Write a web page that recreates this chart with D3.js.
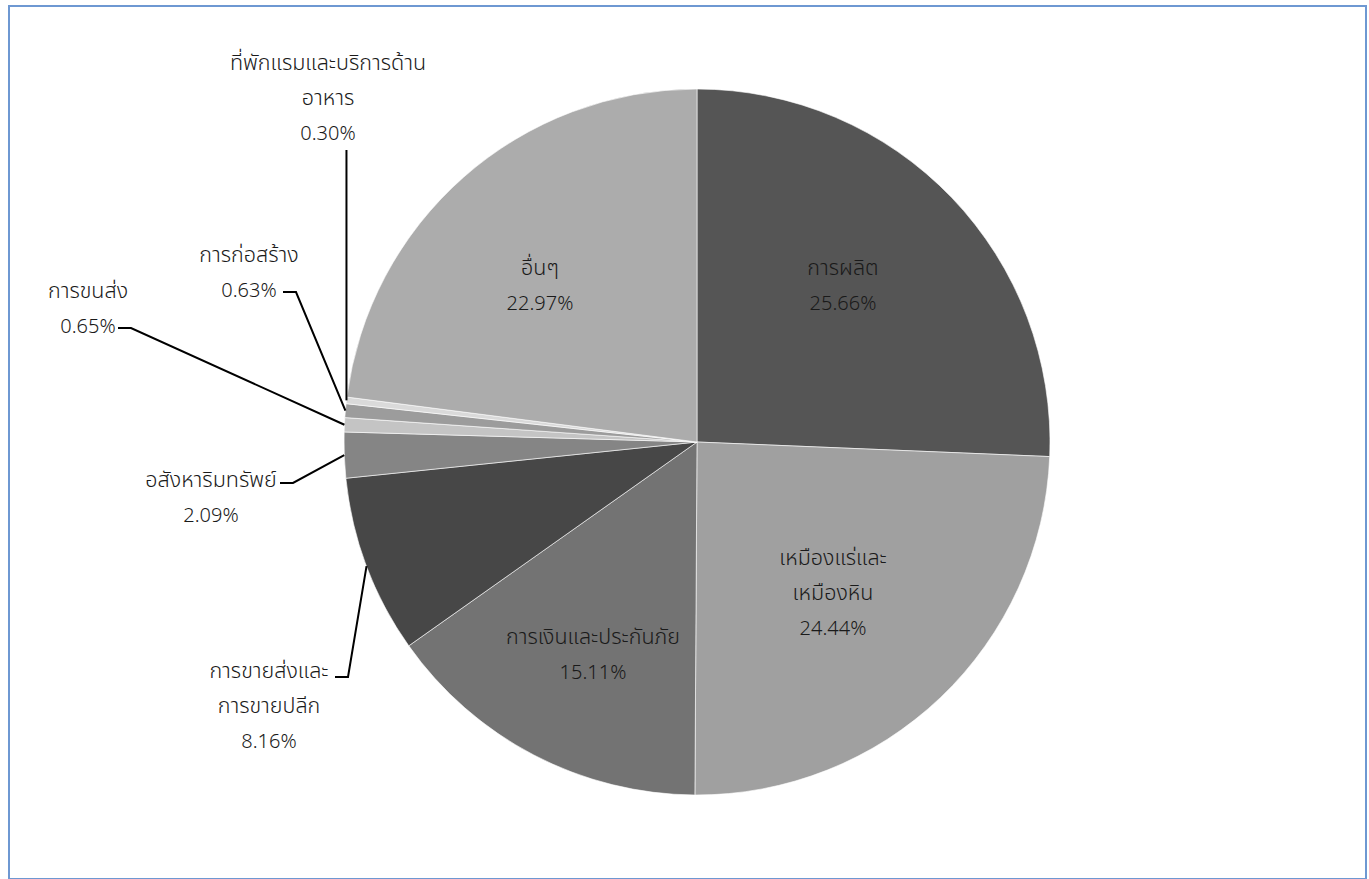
<!DOCTYPE html>
<html lang="th">
<head>
<meta charset="utf-8">
<script src="https://cdn.jsdelivr.net/npm/d3@7"></script>
<style>
  html, body { margin: 0; padding: 0; background: #fff; }
  svg text { font-family: "Noto Sans Thai", "Noto Sans", "Open Sans", sans-serif; font-weight: 300; fill: #1a1a1a; }
</style>
</head>
<body>
<svg id="chart" width="1369" height="879"></svg>
<script>
// Share of value by sector (%), clockwise from 12 o'clock
const categories = [
  "การผลิต",
  "เหมืองแร่และเหมืองหิน",
  "การเงินและประกันภัย",
  "การขายส่งและการขายปลีก",
  "อสังหาริมทรัพย์",
  "การขนส่ง",
  "การก่อสร้าง",
  "ที่พักแรมและบริการด้านอาหาร",
  "อื่นๆ"
];
const values = [25.66, 24.44, 15.11, 8.16, 2.09, 0.65, 0.63, 0.30, 22.97];
const sliceColors = ["#555555", "#a0a0a0", "#737373", "#474747", "#858585",
                     "#c4c4c4", "#9c9c9c", "#dadada", "#acacac"];

const svg = d3.select("#chart");
const W = 1369, H = 879;
const cx = 697, cy = 442, R = 353;

// outer frame
svg.append("rect")
  .attr("x", 9).attr("y", 6).attr("width", W - 12).attr("height", H - 6)
  .attr("fill", "none").attr("stroke", "#6e98d2").attr("stroke-width", 2);

const data = categories.map((c, i) => ({ name: c, value: values[i], color: sliceColors[i] }));

const pie = d3.pie().value(d => d.value).sort(null);
const arcs = pie(data);
const arc = d3.arc().innerRadius(0).outerRadius(R);

const g = svg.append("g").attr("transform", `translate(${cx},${cy})`);
g.selectAll("path.slice")
  .data(arcs)
  .join("path")
  .attr("class", "slice")
  .attr("d", arc)
  .attr("fill", d => d.data.color)
  .attr("stroke", "#ffffff")
  .attr("stroke-width", 0.6);

// label layout: line breaks, text centre (relative to pie centre) and leader elbow
const fmt = v => v.toFixed(2) + "%";
const layout = {
  "การผลิต": { lines: ["การผลิต"], x: 146, y: -175 },
  "เหมืองแร่และเหมืองหิน": { lines: ["เหมืองแร่และ", "เหมืองหิน"], x: 136, y: 115 },
  "การเงินและประกันภัย": { lines: ["การเงินและประกันภัย"], x: -104, y: 194 },
  "อื่นๆ": { lines: ["อื่นๆ"], x: -157, y: -175 },
  "การขายส่งและการขายปลีก": { lines: ["การขายส่งและ", "การขายปลีก"], x: -428, y: 228,
    leader: { tx: -349, ty: 235 } },
  "อสังหาริมทรัพย์": { lines: ["อสังหาริมทรัพย์"], x: -486, y: 37,
    leader: { tx: -404, ty: 41 } },
  "การขนส่ง": { lines: ["การขนส่ง"], x: -609, y: -152,
    leader: { tx: -566, ty: -114 } },
  "การก่อสร้าง": { lines: ["การก่อสร้าง"], x: -448, y: -188,
    leader: { tx: -401, ty: -150 } },
  "ที่พักแรมและบริการด้านอาหาร": { lines: ["ที่พักแรมและบริการด้าน", "อาหาร"], x: -369, y: -380,
    leader: { vertical: true, ty: -292 } }
};

const lineH = 35.5;
const labels = svg.append("g").attr("transform", `translate(${cx},${cy})`);

arcs.forEach(a => {
  const L = layout[a.data.name];
  const mid = (a.startAngle + a.endAngle) / 2;
  const ex = R * Math.sin(mid), ey = -R * Math.cos(mid);
  const rows = L.lines.concat([fmt(a.data.value)]);
  const t = labels.append("text")
    .attr("text-anchor", "middle");
  rows.forEach((r, i) => {
    const isPct = i === rows.length - 1;
    t.append("tspan")
      .attr("x", L.x)
      .attr("y", L.y + i * lineH)
      .attr("dy", "0.35em")
      .attr("font-size", isPct ? 20 : 21.5)
      .text(r);
  });
  if (L.leader) {
    let pts;
    if (L.leader.vertical) {
      pts = [[ex, L.leader.ty], [ex, ey]];
    } else {
      pts = [[L.leader.tx - 13, L.leader.ty], [L.leader.tx, L.leader.ty], [ex, ey]];
    }
    labels.append("path")
      .attr("d", d3.line()(pts))
      .attr("fill", "none")
      .attr("stroke", "#000")
      .attr("stroke-width", 2);
  }
});
</script>
</body>
</html>
